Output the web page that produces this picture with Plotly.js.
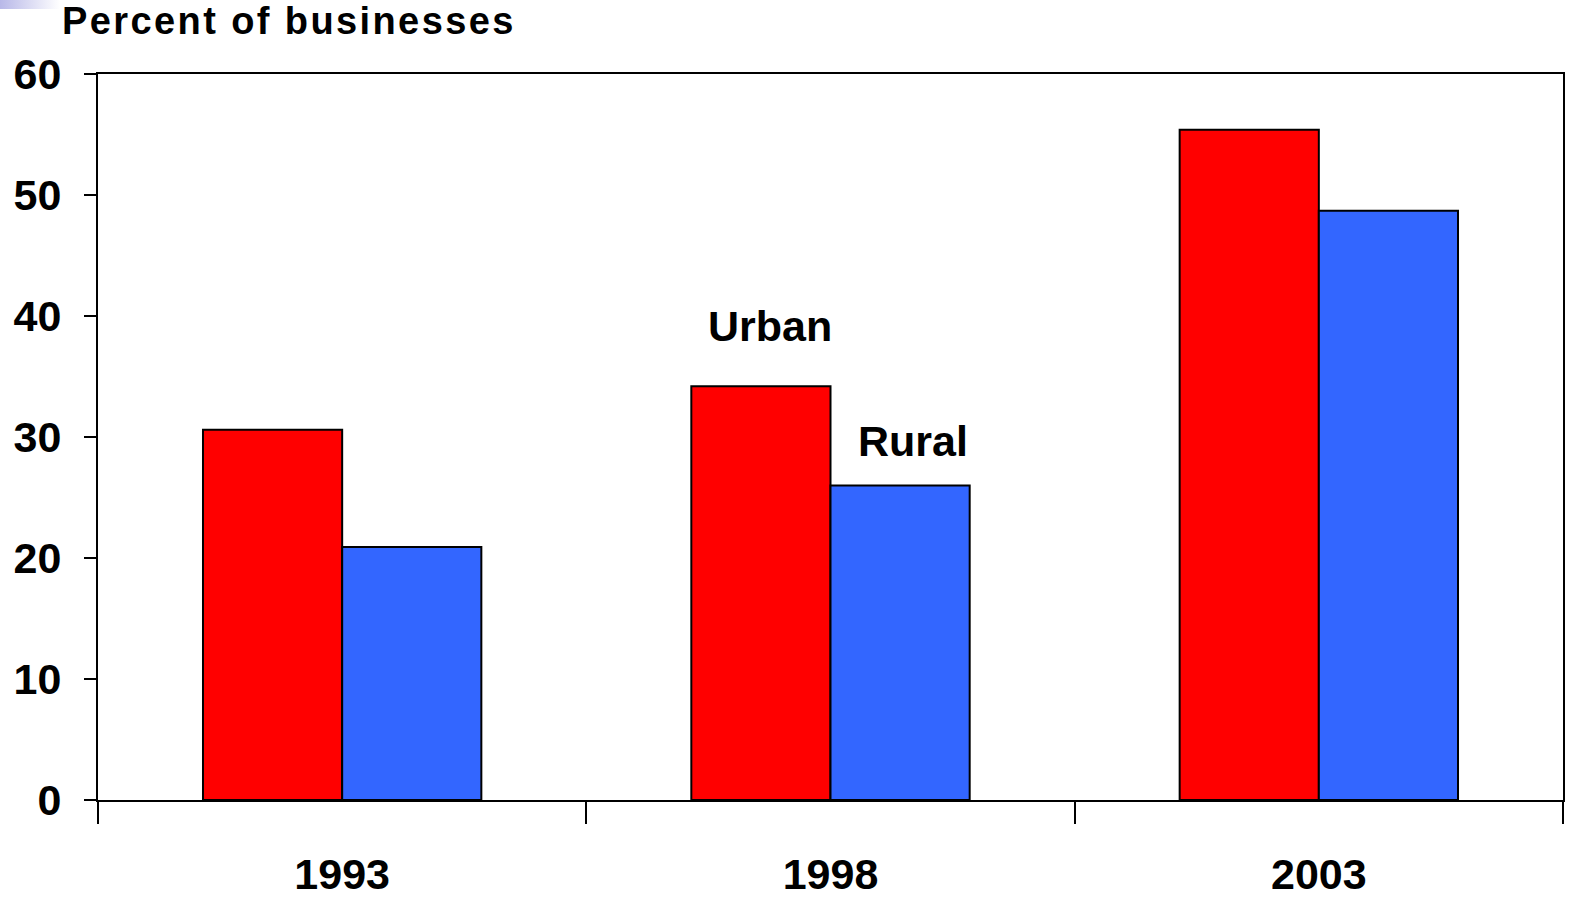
<!DOCTYPE html>
<html>
<head>
<meta charset="utf-8">
<script src="https://cdn.plot.ly/plotly-3.0.1.min.js"></script>
<style>
html,body{margin:0;padding:0;background:#fff;overflow:hidden;width:1581px;height:899px;}
#chart{width:1581px;height:899px;display:block;}
#corner{position:absolute;left:0;top:0;width:60px;height:9px;background:linear-gradient(to right,#b8b8e8,#ffffff);}
.gtitle{letter-spacing:2.4px;}
</style>
</head>
<body>
<div id="chart"></div>
<div id="corner"></div>
<script>
const years = ['1993', '1998', '2003'];
const urban = [30.6, 34.2, 55.4];
const rural = [20.9, 26.0, 48.7];
const yTicks = [0, 10, 20, 30, 40, 50, 60];

const font = 'Liberation Sans, Arial, sans-serif';

const traces = [
  {type: 'bar', name: 'Urban', x: years, y: urban,
   marker: {color: '#FF0000', line: {color: '#000', width: 2}}, hoverinfo: 'y'},
  {type: 'bar', name: 'Rural', x: years, y: rural,
   marker: {color: '#3366FF', line: {color: '#000', width: 2}}, hoverinfo: 'y'}
];

const layout = {
  width: 1581, height: 899,
  margin: {l: 98, r: 18, t: 74, b: 99},
  paper_bgcolor: '#fff', plot_bgcolor: '#fff',
  showlegend: false,
  barmode: 'group',
  bargap: 0.43,
  bargroupgap: 0,
  font: {family: font, color: '#000'},
  title: {
    text: '<b>Percent of businesses</b>',
    font: {family: font, size: 38, color: '#000'},
    xref: 'container', x: 62/1581, xanchor: 'left',
    yref: 'container', y: 1 - 21/899, yanchor: 'middle'
  },
  xaxis: {
    type: 'category',
    showline: true, linecolor: '#000', linewidth: 2, mirror: true,
    ticks: 'outside', tickson: 'boundaries', ticklen: 22, tickwidth: 2, tickcolor: '#000',
    tickfont: {family: font, size: 43, color: '#000'},
    ticklabelstandoff: 35,
    tickprefix: '<b>', ticksuffix: '</b>',
    showgrid: false, zeroline: false
  },
  yaxis: {
    range: [0, 60],
    tickvals: yTicks,
    ticktext: yTicks.map(v => '<b>' + v + '</b>'),
    showline: true, linecolor: '#000', linewidth: 2, mirror: true,
    ticks: 'outside', ticklen: 12, tickwidth: 2, tickcolor: '#000',
    tickfont: {family: font, size: 43, color: '#000'},
    ticklabelstandoff: 14,
    showgrid: false, zeroline: false
  },
  annotations: [
    {x: 0.877, y: 39.2, xref: 'x', yref: 'y', text: '<b>Urban</b>', showarrow: false,
     font: {family: font, size: 43, color: '#000'}},
    {x: 1.169, y: 29.7, xref: 'x', yref: 'y', text: '<b>Rural</b>', showarrow: false,
     font: {family: font, size: 43, color: '#000'}}
  ]
};

Plotly.newPlot('chart', traces, layout, {displayModeBar: false, staticPlot: true});
</script>
</body>
</html>
